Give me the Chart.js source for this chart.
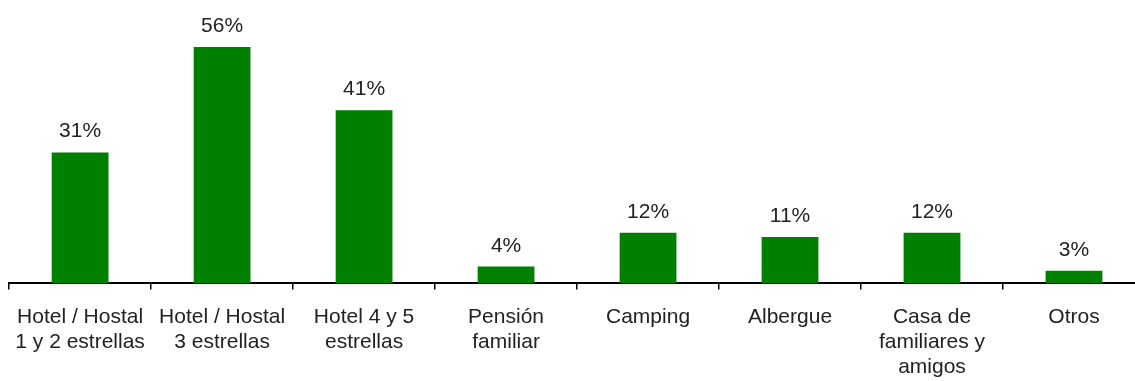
<!DOCTYPE html>
<html>
<head>
<meta charset="utf-8">
<script src="https://cdn.jsdelivr.net/npm/chart.js@4"></script>
<style>
  html, body { margin: 0; padding: 0; background: #fff; overflow: hidden; }
  #wrap { width: 1160px; height: 395px; position: relative; }
</style>
</head>
<body>
<div id="wrap"><canvas id="myChart"></canvas></div>
<script>
// Tipo de alojamiento utilizado (%)
const categories = [
  ['Hotel / Hostal', '1 y 2 estrellas'],
  ['Hotel / Hostal', '3 estrellas'],
  ['Hotel 4 y 5', 'estrellas'],
  ['Pensión', 'familiar'],
  ['Camping'],
  ['Albergue'],
  ['Casa de', 'familiares y', 'amigos'],
  ['Otros']
];
const values = [31, 56, 41, 4, 12, 11, 12, 3];

const textColor = '#222222';
const fontFamily = '"Liberation Sans", Arial, sans-serif';

// draws the percentage over each bar
const valueLabels = {
  id: 'valueLabels',
  afterDatasetsDraw(chart) {
    const ctx = chart.ctx;
    const meta = chart.getDatasetMeta(0);
    ctx.save();
    ctx.font = '21px ' + fontFamily;
    ctx.fillStyle = textColor;
    ctx.textAlign = 'center';
    ctx.textBaseline = 'alphabetic';
    meta.data.forEach((bar, i) => {
      ctx.fillText(values[i] + '%', bar.x, bar.y - 15);
    });
    ctx.restore();
  }
};

const data = {
  labels: categories,
  datasets: [{
    data: values,
    backgroundColor: '#008000',
    barPercentage: 0.4,
    categoryPercentage: 1.0
  }]
};

const config = {
  type: 'bar',
  data: data,
  options: {
    responsive: true,
    maintainAspectRatio: false,
    animation: false,
    layout: { padding: { left: 5, right: 15, top: 30, bottom: 0 } },
    plugins: {
      legend: { display: false },
      tooltip: { enabled: false }
    },
    scales: {
      y: {
        display: false,
        min: 0,
        max: 60
      },
      x: {
        border: { display: true, color: '#000', width: 2 },
        grid: {
          display: true,
          drawOnChartArea: false,
          drawTicks: true,
          tickLength: 6,
          color: '#000',
          lineWidth: 1.5,
          offset: true
        },
        ticks: {
          color: textColor,
          font: { family: fontFamily, size: 21, lineHeight: 1.2 },
          padding: 15,
          maxRotation: 0,
          minRotation: 0,
          autoSkip: false
        }
      }
    }
  },
  plugins: [valueLabels]
};

let myChart = new Chart(document.getElementById('myChart'), config);
</script>
</body>
</html>
